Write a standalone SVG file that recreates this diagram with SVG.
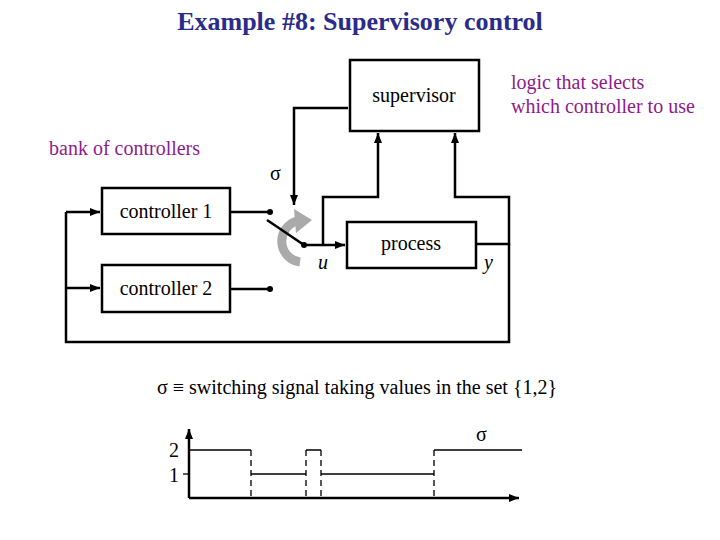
<svg xmlns="http://www.w3.org/2000/svg" width="720" height="540" viewBox="0 0 720 540">
<style>
text{font-family:"Liberation Serif","DejaVu Serif",serif;}
.b{fill:#fff;stroke:#000;stroke-width:2.5}
.l{fill:none;stroke:#000;stroke-width:2.5}
.t{font-size:20px;fill:#000}
.p{font-size:20px;fill:#8e1a8e}
.th{fill:none;stroke:#000;stroke-width:1.3}
.d{fill:none;stroke:#000;stroke-width:1.3;stroke-dasharray:6,4}
</style>
<defs>
<marker id="a" viewBox="0 0 10 10" refX="10" refY="5" markerWidth="4" markerHeight="4" orient="auto-start-reverse"><path d="M0,1 L10,5 L0,9z" fill="#000"/></marker>
</defs>
<rect width="720" height="540" fill="#fff"/>
<text x="360" y="30" text-anchor="middle" font-size="26" font-weight="bold" fill="#2b2b8c">Example #8: Supervisory control</text>
<text class="p" x="511" y="89">logic that selects</text>
<text class="p" x="511" y="113">which controller to use</text>
<text class="p" x="49" y="155">bank of controllers</text>
<g id="connectors">
<path class="l" d="M66,212 H100" marker-end="url(#a)"/>
<path class="l" d="M66,288 H100" marker-end="url(#a)"/>
<path class="l" d="M509,244 V342 H66 V212"/>
<path class="l" d="M230,212 H270"/>
<path class="l" d="M230,289 H270"/>
<path class="l" d="M304,245 H345" marker-end="url(#a)"/>
<path class="l" d="M323,245 V197 H378 V133" marker-end="url(#a)"/>
<path class="l" d="M476,244 H509 V197 H455 V133" marker-end="url(#a)"/>
<path class="l" d="M348,108 H294 V205" marker-end="url(#a)"/>
</g>
<g id="switch">
<path d="M300,262 A21,21 0 0 1 297,221" fill="none" stroke="#aaa" stroke-width="9"/>
<path d="M294,209 L312,220 L296,233 Z" fill="#aaa"/>
<line class="l" x1="267" y1="220" x2="304" y2="245"/>
<circle cx="270" cy="212" r="3" fill="#000"/>
<circle cx="270" cy="289" r="3" fill="#000"/>
<circle cx="304" cy="245" r="3" fill="#000"/>
<text class="t" x="270" y="180">σ</text>
<text class="t" x="318" y="269" font-style="italic">u</text>
<text class="t" x="484" y="269" font-style="italic">y</text>
</g>
<g id="supervisor"><rect class="b" x="350" y="60" width="129" height="71"/><text class="t" x="414" y="102" text-anchor="middle">supervisor</text></g>
<g id="controller1"><rect class="b" x="102" y="188" width="128" height="46"/><text class="t" x="166" y="218" text-anchor="middle">controller 1</text></g>
<g id="controller2"><rect class="b" x="102" y="265" width="128" height="47"/><text class="t" x="166" y="295" text-anchor="middle">controller 2</text></g>
<g id="process"><rect class="b" x="347" y="222" width="129" height="46"/><text class="t" x="411" y="250" text-anchor="middle">process</text></g>
<text class="t" x="157" y="394">σ ≡ switching signal taking values in the set {1,2}</text>
<g id="plot">
<path class="l" d="M189,498 H519" marker-end="url(#a)"/>
<path class="l" d="M189,498 V429" marker-end="url(#a)"/>
<path class="th" d="M183,474 H189"/>
<text class="t" x="169" y="457">2</text>
<text class="t" x="169" y="482">1</text>
<text class="t" x="476" y="441">σ</text>
<path class="th" d="M189,450 H251 M251,474 H306 M306,450 H321 M321,474 H434 M434,450 H522"/>
<path class="d" d="M251,450 V498 M306,450 V498 M321,450 V498 M434,450 V498"/>
</g>
</svg>
